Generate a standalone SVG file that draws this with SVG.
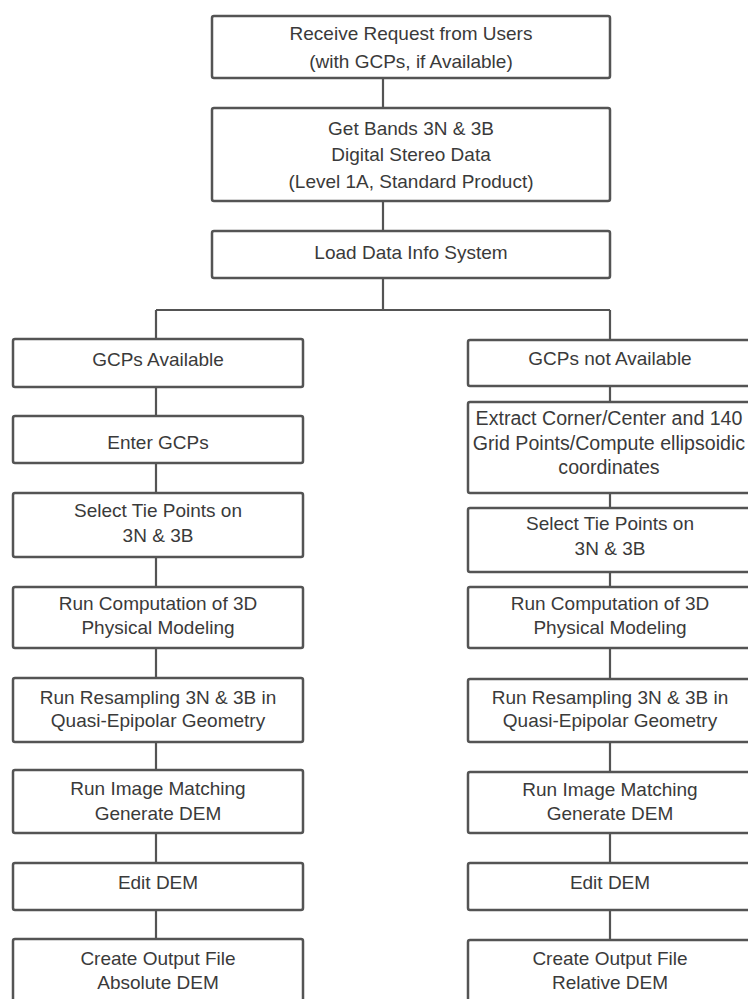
<svg xmlns="http://www.w3.org/2000/svg" width="748" height="999" viewBox="0 0 748 999">
<style>
.box{fill:#ffffff;stroke:#545454;stroke-width:2.5}
.t{font-family:"Liberation Sans",Arial,sans-serif;font-size:19px;fill:#3a3a3a;text-anchor:middle}
.w{font-size:19.6px}
.c{stroke:#545454;stroke-width:2.2;fill:none}
</style>
<rect width="748" height="999" fill="#ffffff"/>
<g id="connectors">
<path class="c" d="M383 78V108M383 201V231M383 278V310M156 310H610M156 310V339M610 310V340"/>
<path class="c" d="M156 387V416M156 463V493M156 557V587M156 648V678M156 742V770M156 833V863M156 910V939"/>
<path class="c" d="M610 386V402M610 493V508M610 572V587M610 648V679M610 742V772M610 833V863M610 910V940"/>
</g>
<g id="n1"><rect class="box" x="212" y="16" width="398" height="62" rx="2"/>
<text class="t" x="411" y="39.5">Receive Request from Users</text><text class="t" x="411" y="68">(with GCPs, if Available)</text></g>
<g id="n2"><rect class="box" x="212" y="108" width="398" height="93" rx="2"/>
<text class="t" x="411" y="134.5">Get Bands 3N &amp; 3B</text><text class="t" x="411" y="160.5">Digital Stereo Data</text><text class="t" x="411" y="187.5">(Level 1A, Standard Product)</text></g>
<g id="n3"><rect class="box" x="212" y="231" width="398" height="47" rx="2"/>
<text class="t" x="411" y="259">Load Data Info System</text></g>

<g id="l1"><rect class="box" x="13" y="339" width="290" height="48" rx="2"/>
<text class="t" x="158" y="366">GCPs Available</text></g>
<g id="l2"><rect class="box" x="13" y="416" width="290" height="47" rx="2"/>
<text class="t" x="158" y="449">Enter GCPs</text></g>
<g id="l3"><rect class="box" x="13" y="493" width="290" height="64" rx="2"/>
<text class="t" x="158" y="517">Select Tie Points on</text><text class="t" x="158" y="542">3N &amp; 3B</text></g>
<g id="l4"><rect class="box" x="13" y="587" width="290" height="61" rx="2"/>
<text class="t" x="158" y="610">Run Computation of 3D</text><text class="t" x="158" y="634">Physical Modeling</text></g>
<g id="l5"><rect class="box" x="13" y="678" width="290" height="64" rx="2"/>
<text class="t" x="158" y="704">Run Resampling 3N &amp; 3B in</text><text class="t" x="158" y="727">Quasi-Epipolar Geometry</text></g>
<g id="l6"><rect class="box" x="13" y="770" width="290" height="63" rx="2"/>
<text class="t" x="158" y="795">Run Image Matching</text><text class="t" x="158" y="820">Generate DEM</text></g>
<g id="l7"><rect class="box" x="13" y="863" width="290" height="47" rx="2"/>
<text class="t" x="158" y="889">Edit DEM</text></g>
<g id="l8"><rect class="box" x="13" y="939" width="290" height="80" rx="2"/>
<text class="t" x="158" y="965">Create Output File</text><text class="t" x="158" y="989">Absolute DEM</text></g>

<g id="r1"><rect class="box" x="468" y="340" width="285" height="46" rx="2"/>
<text class="t" x="610" y="365">GCPs not Available</text></g>
<g id="r2"><rect class="box" x="468" y="402" width="285" height="91" rx="2"/>
<text class="t w" x="609" y="425">Extract Corner/Center and 140</text><text class="t w" x="609" y="449.5">Grid Points/Compute ellipsoidic</text><text class="t w" x="609" y="474">coordinates</text></g>
<g id="r3"><rect class="box" x="468" y="508" width="285" height="64" rx="2"/>
<text class="t" x="610" y="530">Select Tie Points on</text><text class="t" x="610" y="555">3N &amp; 3B</text></g>
<g id="r4"><rect class="box" x="468" y="587" width="285" height="61" rx="2"/>
<text class="t" x="610" y="610">Run Computation of 3D</text><text class="t" x="610" y="634">Physical Modeling</text></g>
<g id="r5"><rect class="box" x="468" y="679" width="285" height="63" rx="2"/>
<text class="t" x="610" y="704">Run Resampling 3N &amp; 3B in</text><text class="t" x="610" y="727">Quasi-Epipolar Geometry</text></g>
<g id="r6"><rect class="box" x="468" y="772" width="285" height="61" rx="2"/>
<text class="t" x="610" y="796">Run Image Matching</text><text class="t" x="610" y="820">Generate DEM</text></g>
<g id="r7"><rect class="box" x="468" y="863" width="285" height="47" rx="2"/>
<text class="t" x="610" y="889">Edit DEM</text></g>
<g id="r8"><rect class="box" x="468" y="940" width="285" height="80" rx="2"/>
<text class="t" x="610" y="965">Create Output File</text><text class="t" x="610" y="989">Relative DEM</text></g>
</svg>
